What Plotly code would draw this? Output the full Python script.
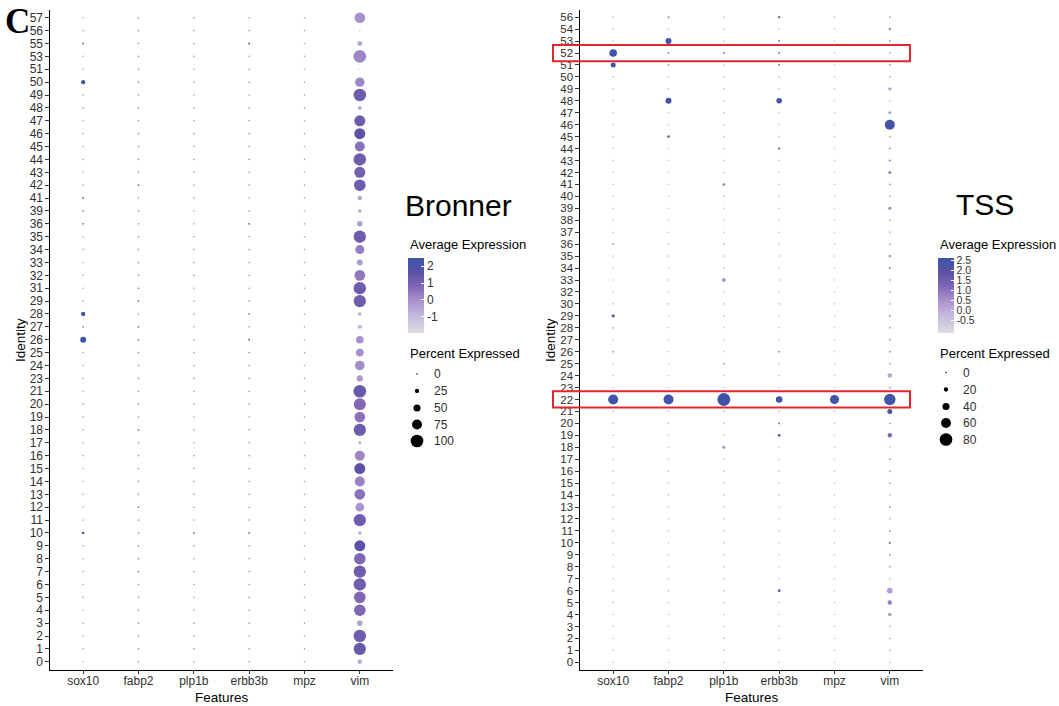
import plotly.graph_objects as go

# ---------------------------------------------------------------- data
GENES = ["sox10", "fabp2", "plp1b", "erbb3b", "mpz", "vim"]

BRONNER_IDS = ["0", "1", "2", "3", "4", "5", "6", "7", "8", "9",
               "10", "11", "12", "13", "14", "15", "16", "17", "18", "19",
               "20", "21", "23", "24", "25", "26", "27", "28", "29", "31",
               "32", "33", "34", "35", "36", "39", "41", "42", "43", "44",
               "45", "46", "47", "48", "49", "50", "51", "53", "55", "56",
               "57"]

BR_PCT_SOX10 = [1, 1, 1, 1, 1, 1, 1, 1, 1, 1,
                9, 1, 1, 1, 1, 1, 1, 1, 1, 1,
                1, 1, 1, 1, 1, 40, 3, 25, 1, 1,
                1, 1, 1, 1, 3, 2, 4, 1, 1, 1,
                1, 1, 1, 1, 1, 25, 1, 1, 4, 1,
                1]
BR_AVG_SOX10 = [-0.3, -0.3, -0.3, -0.3, -0.3, -0.3, -0.3, -0.3, -0.3, -0.3,
                2.3, -0.3, -0.3, -0.3, -0.3, -0.3, -0.3, -0.3, -0.3, -0.3,
                -0.3, -0.3, -0.3, -0.3, -0.3, 2.5, 0.5, 2.5, -0.3, -0.3,
                -0.3, -0.3, -0.3, -0.3, 0.8, 0.5, 0.8, -0.3, -0.3, -0.3,
                -0.3, -0.3, -0.3, -0.3, -0.3, 2.4, -0.3, -0.3, 1.0, -0.3,
                -0.3]

BR_PCT_FABP2 = [1, 1, 1, 1, 1, 1, 1, 1.5, 1.5, 1,
                1, 1, 1.5, 1, 1, 1, 1, 1, 2, 1,
                1, 1, 1, 1, 1, 2, 2, 1, 2, 1.5,
                1, 1, 1, 1, 1, 1, 1, 2, 1, 1,
                1, 1, 1, 1, 1, 1, 1, 1, 1, 1,
                1]
BR_AVG_FABP2 = [0.3, 0.3, 0.3, 0.3, 0.3, 0.3, 0.3, 1.0, 1.0, 0.3,
                0.3, 0.3, 1.0, 0.3, 0.3, 0.3, 0.3, 0.3, 1.0, 0.3,
                0.3, 0.3, 0.3, 0.3, 0.3, 1.0, 1.0, 0.3, 1.0, 1.0,
                0.3, 0.3, 0.3, 0.3, 0.3, 0.3, 0.3, 1.0, 0.3, 0.3,
                0.3, 0.3, 0.3, 0.3, 0.3, 0.3, 0.3, 0.3, 0.3, 0.3,
                0.3]

BR_PCT_PLP1B = [1, 1, 1, 1, 1, 1, 1, 1, 1, 1,
                2, 1, 1, 1, 1, 1, 1, 1, 1, 1,
                1, 1, 1, 1, 1, 1, 1, 1, 1, 1,
                1, 1, 1, 1, 1, 1, 1, 1, 1, 1,
                1, 1, 1, 1, 1, 1, 1, 1, 1, 1,
                1]
BR_AVG_PLP1B = [0.0, 0.0, 0.0, 0.0, 0.0, 0.0, 0.0, 0.0, 0.0, 0.0,
                1.0, 0.0, 0.0, 0.0, 0.0, 0.0, 0.0, 0.0, 0.0, 0.0,
                0.0, 0.0, 0.0, 0.0, 0.0, 0.0, 0.0, 0.0, 0.0, 0.0,
                0.0, 0.0, 0.0, 0.0, 0.0, 0.0, 0.0, 0.0, 0.0, 0.0,
                0.0, 0.0, 0.0, 0.0, 0.0, 0.0, 0.0, 0.0, 0.0, 0.0,
                0.0]

BR_PCT_ERBB3B = [1, 1, 1, 1, 1, 1, 1, 1, 1, 1,
                 2, 1, 1, 1, 1, 1, 1, 1, 1, 1,
                 1, 1, 1, 1, 1, 2.5, 1, 2, 1, 1,
                 1, 1, 1, 1, 3, 1, 1, 1, 1, 1,
                 1, 1, 1, 1, 1, 1, 1, 1, 3, 1,
                 1]
BR_AVG_ERBB3B = [0.2, 0.2, 0.2, 0.2, 0.2, 0.2, 0.2, 0.2, 0.2, 0.2,
                 1.5, 0.2, 0.2, 0.2, 0.2, 0.2, 0.2, 0.2, 0.2, 0.2,
                 0.2, 0.2, 0.2, 0.2, 0.2, 1.5, 0.2, 1.5, 0.2, 0.2,
                 0.2, 0.2, 0.2, 0.2, 1.5, 0.2, 0.2, 0.2, 0.2, 0.2,
                 0.2, 0.2, 0.2, 0.2, 0.2, 0.2, 0.2, 0.2, 1.5, 0.2,
                 0.2]

BR_PCT_MPZ = [1, 1, 1, 1, 1, 1, 1, 1, 1, 1,
              1, 1, 1, 1, 1, 1, 1, 1, 1, 1,
              1, 1, 1, 1, 1, 1, 1, 1, 1, 1,
              1, 1, 1, 1, 1, 1, 1, 1, 1, 1,
              1, 1, 1, 1, 1, 1, 1, 1, 1, 1,
              1]
BR_AVG_MPZ = [-0.2, -0.2, -0.2, -0.2, -0.2, -0.2, -0.2, -0.2, -0.2, -0.2,
              -0.2, -0.2, -0.2, -0.2, -0.2, -0.2, -0.2, -0.2, -0.2, -0.2,
              -0.2, -0.2, -0.2, -0.2, -0.2, -0.2, -0.2, -0.2, -0.2, -0.2,
              -0.2, -0.2, -0.2, -0.2, -0.2, -0.2, -0.2, -0.2, -0.2, -0.2,
              -0.2, -0.2, -0.2, -0.2, -0.2, -0.2, -0.2, -0.2, -0.2, -0.2,
              -0.2]

BR_PCT_VIM = [27, 96, 98, 36, 90, 90, 97, 97, 90, 85,
              18, 97, 64, 82, 76, 85, 76, 13, 96, 82,
              94, 100, 43, 73, 55, 55, 22, 18, 97, 97,
              82, 40, 67, 97, 36, 18, 27, 90, 85, 98,
              76, 85, 85, 22, 98, 70, 2, 100, 31, 3,
              82]
BR_AVG_VIM = [-0.5, 1.3, 1.2, -0.4, 0.8, 0.8, 1.2, 1.2, 0.8, 1.7,
              -0.6, 1.2, -0.1, 0.6, 0.3, 1.6, 0.2, -0.6, 1.2, 0.6,
              0.8, 1.3, -0.2, 0.1, 0.0, 0.0, -0.6, -0.6, 1.2, 1.2,
              0.5, -0.3, 0.4, 1.2, -0.3, -0.5, -0.5, 1.2, 1.1, 1.2,
              0.6, 1.6, 1.2, -0.5, 1.2, 0.2, -1.8, 0.2, -0.5, -1.5,
              0.0]

TSS_IDS = ["0", "1", "2", "3", "4", "5", "6", "7", "8", "9",
           "10", "11", "12", "13", "14", "15", "16", "17", "18", "19",
           "20", "21", "22", "23", "24", "25", "26", "27", "28", "29",
           "30", "32", "33", "34", "35", "36", "37", "38", "39", "40",
           "41", "42", "43", "44", "45", "46", "47", "48", "49", "50",
           "51", "52", "53", "54", "56"]

TSS_PCT_SOX10 = [1, 1, 1, 1, 1, 1, 1, 1, 1, 1,
                 1, 1, 1, 1, 1, 1, 1, 1, 1, 1,
                 1, 1, 61, 1, 1, 1, 2, 1, 2, 14,
                 1, 1, 1, 1, 1, 2, 1, 1, 1, 1,
                 1, 1, 1, 1, 1, 1, 1, 1, 1, 1,
                 25, 44, 1, 1, 1]
TSS_AVG_SOX10 = [-0.2, -0.2, -0.2, -0.2, -0.2, -0.2, -0.2, -0.2, -0.2, -0.2,
                 -0.2, -0.2, -0.2, -0.2, -0.2, -0.2, -0.2, -0.2, -0.2, -0.2,
                 -0.2, -0.2, 2.5, -0.2, -0.2, -0.2, 0.5, -0.2, 0.5, 1.6,
                 -0.2, -0.2, -0.2, -0.2, -0.2, 0.5, -0.2, -0.2, -0.2, -0.2,
                 -0.2, -0.2, -0.2, -0.2, -0.2, -0.2, -0.2, -0.2, -0.2, -0.2,
                 2.5, 2.5, -0.2, -0.2, -0.2]

TSS_PCT_FABP2 = [1, 1, 1, 1, 1, 1, 1, 1, 1, 1,
                 1, 1, 1, 1, 1, 1, 1, 1, 1, 1,
                 1, 1, 61, 1, 1, 1, 1, 1, 1, 1,
                 1, 1, 1, 1, 1, 1, 1, 1, 1, 1,
                 1, 1, 1, 1, 10, 1, 1, 32, 1, 1,
                 2, 3, 32, 1, 3]
TSS_AVG_FABP2 = [-0.2, -0.2, -0.2, -0.2, -0.2, -0.2, -0.2, -0.2, -0.2, -0.2,
                 -0.2, -0.2, -0.2, -0.2, -0.2, -0.2, -0.2, -0.2, -0.2, -0.2,
                 -0.2, -0.2, 2.5, -0.2, -0.2, -0.2, -0.2, -0.2, -0.2, -0.2,
                 -0.2, -0.2, -0.2, -0.2, -0.2, -0.2, -0.2, -0.2, -0.2, -0.2,
                 -0.2, -0.2, -0.2, -0.2, 1.2, -0.2, -0.2, 2.5, -0.2, -0.2,
                 0.8, 0.8, 2.5, -0.2, 0.8]

TSS_PCT_PLP1B = [1, 1, 1, 1, 1, 1, 1, 1, 1, 1,
                 1, 1, 1, 1, 1, 1, 1, 1, 11, 1,
                 1, 1, 82, 1, 1, 2, 1, 1, 1, 1,
                 1, 1, 18, 1, 1, 1, 1, 1, 1, 1,
                 11, 1, 1, 1, 1, 1, 1, 1, 1, 1,
                 1, 4, 1, 1, 1]
TSS_AVG_PLP1B = [-0.1, -0.1, -0.1, -0.1, -0.1, -0.1, -0.1, -0.1, -0.1, -0.1,
                 -0.1, -0.1, -0.1, -0.1, -0.1, -0.1, -0.1, -0.1, 0.5, -0.1,
                 -0.1, -0.1, 2.5, -0.1, -0.1, 0.5, -0.1, -0.1, -0.1, -0.1,
                 -0.1, -0.1, 0.4, -0.1, -0.1, -0.1, -0.1, -0.1, -0.1, -0.1,
                 0.5, -0.1, -0.1, -0.1, -0.1, -0.1, -0.1, -0.1, -0.1, -0.1,
                 -0.1, 0.9, -0.1, -0.1, -0.1]

TSS_PCT_ERBB3B = [1, 1, 1, 1, 1, 1, 10, 1, 1, 1,
                  1, 1, 1, 1, 1, 1, 1, 1, 1, 10,
                  3, 1, 36, 1, 1, 1, 2, 1, 1, 1,
                  1, 1, 1, 1, 1, 1, 1, 1, 1, 1,
                  1, 1, 1, 5, 1, 1, 1, 29, 1, 1,
                  3, 4, 3, 1, 6]
TSS_AVG_ERBB3B = [-0.2, -0.2, -0.2, -0.2, -0.2, -0.2, 1.6, -0.2, -0.2, -0.2,
                  -0.2, -0.2, -0.2, -0.2, -0.2, -0.2, -0.2, -0.2, -0.2, 1.9,
                  1.2, -0.2, 2.5, -0.2, -0.2, -0.2, 0.8, -0.2, -0.2, -0.2,
                  -0.2, -0.2, -0.2, -0.2, -0.2, -0.2, -0.2, -0.2, -0.2, -0.2,
                  -0.2, -0.2, -0.2, 1.6, -0.2, -0.2, -0.2, 2.5, -0.2, -0.2,
                  1.0, 1.0, 1.0, -0.2, 1.2]

TSS_PCT_MPZ = [1, 1, 1, 1, 1, 1, 1, 1, 1, 1,
               1, 1, 1, 1, 1, 1, 1, 1, 1, 1,
               1, 1, 54, 1, 1, 1, 1, 1, 1, 1,
               1, 1, 1, 1, 1, 1, 1, 1, 1, 1,
               1, 1, 1, 1, 1, 1, 1, 1, 1, 1,
               1, 1, 1, 1, 1]
TSS_AVG_MPZ = [-0.3, -0.3, -0.3, -0.3, -0.3, -0.3, -0.3, -0.3, -0.3, -0.3,
               -0.3, -0.3, -0.3, -0.3, -0.3, -0.3, -0.3, -0.3, -0.3, -0.3,
               -0.3, -0.3, 2.5, -0.3, -0.3, -0.3, -0.3, -0.3, -0.3, -0.3,
               -0.3, -0.3, -0.3, -0.3, -0.3, -0.3, -0.3, -0.3, -0.3, -0.3,
               -0.3, -0.3, -0.3, -0.3, -0.3, -0.3, -0.3, -0.3, -0.3, -0.3,
               -0.3, -0.3, -0.3, -0.3, -0.3]

TSS_PCT_VIM = [2, 2, 2, 2, 14, 21, 29, 2, 4, 4,
               6, 4, 2, 4, 2, 3, 3, 3, 2, 21,
               3, 25, 71, 3, 21, 3, 4, 4, 3, 4,
               3, 3, 3, 4, 8, 4, 2, 2, 11, 2,
               4, 11, 5, 4, 3, 61, 10, 2, 12, 2,
               3, 2, 3, 8, 3]
TSS_AVG_VIM = [-0.3, -0.3, -0.3, -0.3, 0.4, 0.8, 0.3, -0.3, 0.2, 0.3,
               1.0, 0.3, -0.3, 0.3, -0.3, 0.2, 0.2, 0.3, -0.3, 1.2,
               0.2, 2.1, 2.5, 0.2, 0.1, 0.3, 0.4, 0.4, 0.3, 0.4,
               0.2, 0.2, 0.3, 0.8, 0.5, 0.2, 0.0, 0.0, 0.7, 0.0,
               0.3, 0.8, 0.7, 0.5, 0.2, 2.4, 0.4, -0.2, 0.3, 0.0,
               0.2, 0.0, 0.5, 0.5, 0.3]

BR_SIZE_BREAKS = [0, 25, 50, 75, 100]
TSS_SIZE_BREAKS = [0, 20, 40, 60, 80]
BR_COLOR_TICKS = [-1, 0, 1, 2]
TSS_COLOR_TICKS = [-0.5, 0.0, 0.5, 1.0, 1.5, 2.0, 2.5]
HIGHLIGHT_ROWS = ["52", "22"]

# ---------------------------------------------------------------- styling
W, H = 1059, 706
FONT = "Liberation Sans, Arial, Helvetica, sans-serif"
TICK_COL = "#303030"
COLORSCALE = [[0.0, "#dcdce3"], [0.25, "#c3b5dc"], [0.45, "#a68fca"],
              [0.62, "#8068b5"], [0.80, "#5e51a6"], [1.0, "#3b56a7"]]
BR_SCALE = 0.112     # px of diameter per percent
TSS_SCALE = 0.14


def px(x):
    return x / W


def py(y):
    return 1 - y / H


def dot_size(pct, scale):
    return 1.5 + pct * scale


fig = go.Figure()


def add_panel(ids, pct_cols, avg_cols, scale, xa, ya, cax):
    xs, ys, ss, cs = [], [], [], []
    for gene, pcts, avgs in zip(GENES, pct_cols, avg_cols):
        for ident, p, a in zip(ids, pcts, avgs):
            xs.append(gene)
            ys.append(ident)
            ss.append(dot_size(p, scale))
            cs.append(a)
    fig.add_trace(go.Scatter(
        x=xs, y=ys, mode="markers", xaxis=xa, yaxis=ya,
        marker=dict(size=ss, color=cs, coloraxis=cax, line=dict(width=0),
                    opacity=1),
        showlegend=False, hoverinfo="skip"))


add_panel(BRONNER_IDS,
          [BR_PCT_SOX10, BR_PCT_FABP2, BR_PCT_PLP1B, BR_PCT_ERBB3B, BR_PCT_MPZ, BR_PCT_VIM],
          [BR_AVG_SOX10, BR_AVG_FABP2, BR_AVG_PLP1B, BR_AVG_ERBB3B, BR_AVG_MPZ, BR_AVG_VIM],
          BR_SCALE, "x", "y", "coloraxis")
add_panel(TSS_IDS,
          [TSS_PCT_SOX10, TSS_PCT_FABP2, TSS_PCT_PLP1B, TSS_PCT_ERBB3B, TSS_PCT_MPZ, TSS_PCT_VIM],
          [TSS_AVG_SOX10, TSS_AVG_FABP2, TSS_AVG_PLP1B, TSS_AVG_ERBB3B, TSS_AVG_MPZ, TSS_AVG_VIM],
          TSS_SCALE, "x2", "y2", "coloraxis2")

# size legends drawn on a pixel-space overlay axis
LEG_Y = [374, 391, 408, 424.5, 441]
fig.add_trace(go.Scatter(
    x=[417] * len(BR_SIZE_BREAKS), y=LEG_Y, mode="markers", xaxis="x3", yaxis="y3",
    marker=dict(size=[dot_size(b, BR_SCALE) for b in BR_SIZE_BREAKS], color="#000000",
                line=dict(width=0), opacity=1),
    showlegend=False, hoverinfo="skip"))
fig.add_trace(go.Scatter(
    x=[946] * len(TSS_SIZE_BREAKS), y=[y - 1.5 for y in LEG_Y], mode="markers",
    xaxis="x3", yaxis="y3",
    marker=dict(size=[dot_size(b, TSS_SCALE) for b in TSS_SIZE_BREAKS], color="#000000",
                line=dict(width=0), opacity=1),
    showlegend=False, hoverinfo="skip"))

axis_common = dict(showline=True, linecolor="black", linewidth=1.1, ticks="outside",
                   ticklen=3.5, tickwidth=1, tickcolor="#333333", showgrid=False,
                   zeroline=False, fixedrange=True)


def xaxis_style(dom, anchor):
    return dict(domain=dom, anchor=anchor, type="category", categoryarray=GENES,
                categoryorder="array", range=[-0.6, 5.6], tickmode="linear",
                tick0=0, dtick=1, ticklabelstandoff=-3,
                tickfont=dict(family=FONT, size=12, color=TICK_COL), **axis_common)


def yaxis_style(ids, anchor, fsize):
    return dict(domain=[py(669.5), py(10)], anchor=anchor, type="category",
                categoryarray=ids, categoryorder="array",
                range=[-0.6, len(ids) - 0.4], tickmode="linear", tick0=0, dtick=1,
                tickfont=dict(family=FONT, size=fsize, color=TICK_COL), **axis_common)


annotations = []


def text(x, y, s, size=12, color="black", xanchor="left", angle=0, family=FONT):
    annotations.append(dict(x=px(x), y=py(y), xref="paper", yref="paper", text=s,
                            showarrow=False, xanchor=xanchor, yanchor="middle",
                            textangle=angle,
                            font=dict(family=family, size=size, color=color)))


# panel titles and axis titles
text(458, 205, "Bronner", size=30, xanchor="center")
text(985, 204, "TSS", size=30, xanchor="center")
text(221.5, 697, "Features", size=13.5, xanchor="center")
text(751.5, 697, "Features", size=13.5, xanchor="center")
text(20, 340, "Identity", size=13.5, xanchor="center", angle=-90)
text(550, 340, "Identity", size=13.5, xanchor="center", angle=-90)
text(17, 21, "<b>C</b>", size=35, xanchor="center",
     family="Liberation Serif, Times New Roman, serif")

# legend titles and size-key labels
text(408, 244, "Average Expression", size=13)
text(938, 244, "Average Expression", size=13)
text(408, 353, "Percent Expressed", size=13)
text(938, 353, "Percent Expressed", size=13)
for b, y in zip(BR_SIZE_BREAKS, LEG_Y):
    text(432, y, str(b), size=12, color=TICK_COL)
for b, y in zip(TSS_SIZE_BREAKS, LEG_Y):
    text(961, y - 1.5, str(b), size=12, color=TICK_COL)


def colorbar(x, ticks, labels, fsize):
    return dict(x=px(x), xanchor="left", y=py(258), yanchor="top",
                len=75, lenmode="pixels", thickness=16, thicknessmode="pixels",
                xpad=0, ypad=0, outlinewidth=0, tickmode="array",
                tickvals=ticks, ticktext=labels, ticks="inside", ticklen=3,
                tickcolor="white", tickwidth=1,
                tickfont=dict(family=FONT, size=fsize, color=TICK_COL))


# red frames around highlighted TSS rows
shapes = []
for row in HIGHLIGHT_ROWS:
    k = TSS_IDS.index(row)
    shapes.append(dict(type="rect", xref="paper", yref="y2",
                       x0=px(553), x1=px(910), y0=k - 0.68, y1=k + 0.68,
                       line=dict(color="#e3262d", width=2), fillcolor="rgba(0,0,0,0)"))

fig.update_layout(
    width=W, height=H, autosize=False,
    margin=dict(l=0, r=0, t=0, b=0),
    paper_bgcolor="white", plot_bgcolor="rgba(0,0,0,0)",
    showlegend=False,
    xaxis=xaxis_style([px(50), px(393)], "y"),
    yaxis=yaxis_style(BRONNER_IDS, "x", 12),
    xaxis2=xaxis_style([px(580), px(923)], "y2"),
    yaxis2=yaxis_style(TSS_IDS, "x2", 11.5),
    xaxis3=dict(domain=[0, 1], range=[0, W], visible=False, anchor="y3",
                fixedrange=True),
    yaxis3=dict(domain=[0, 1], range=[H, 0], visible=False, anchor="x3",
                fixedrange=True),
    coloraxis=dict(colorscale=COLORSCALE, cmin=-1.96, cmax=2.48,
                   colorbar=colorbar(408, BR_COLOR_TICKS,
                                     [str(t) for t in BR_COLOR_TICKS], 12)),
    coloraxis2=dict(colorscale=COLORSCALE, cmin=-1.13, cmax=2.6,
                    colorbar=colorbar(938, TSS_COLOR_TICKS,
                                      ["%.1f" % t for t in TSS_COLOR_TICKS], 10.5)),
    annotations=annotations,
    shapes=shapes,
)

fig.write_html("out.html")
